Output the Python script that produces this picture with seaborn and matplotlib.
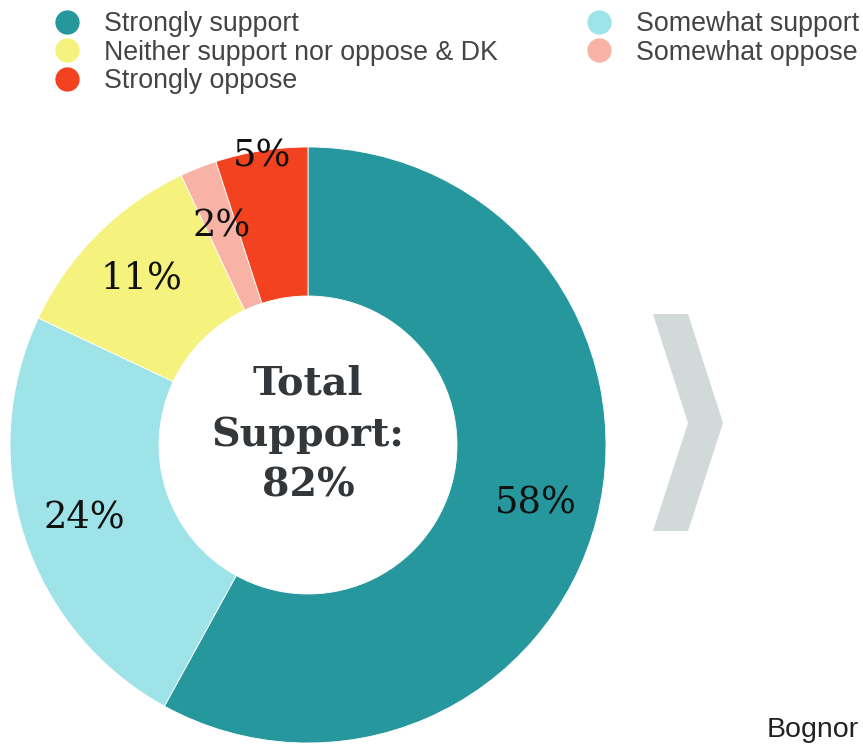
"""Donut chart of support levels with a centre total and a two-column legend."""

import matplotlib

matplotlib.use("Agg")

import numpy as np
import seaborn as sns
from matplotlib import pyplot as plt
from matplotlib.lines import Line2D
from matplotlib.patches import Polygon

# data, in drawing order (clockwise from 12 o'clock)
categories = [
    "Strongly support",
    "Somewhat support",
    "Neither support nor oppose & DK",
    "Somewhat oppose",
    "Strongly oppose",
]
shares = [58, 24, 11, 2, 5]
colors = ["#26979D", "#9EE3E8", "#F5F27D", "#F9B3A6", "#F2421F"]
label_radius = [0.79, 0.79, 0.79, 0.79, 0.98]
legend_order = [0, 2, 4, 1, 3]
center_text = "Total\nSupport:\n82%"
footer_text = "Bognor"

W, H = 863, 744
sns.set_theme(style="white")
plt.rcParams["font.family"] = ["Liberation Sans", "DejaVu Sans"]

fig = plt.figure(figsize=(W / 100, H / 100), dpi=100)
fig.patch.set_facecolor("white")

# pie axes: centre (308, 445) px, outer radius 298 px
cx, cy, R = 308, 445, 298
ax = fig.add_axes([(cx - R) / W, (H - cy - R) / H, 2 * R / W, 2 * R / H])
wedges, _ = ax.pie(
    shares,
    colors=colors,
    startangle=90,
    counterclock=False,
    radius=1.0,
    wedgeprops={"width": 0.5, "edgecolor": "white", "linewidth": 0.6},
)
ax.set_xlim(-1, 1)
ax.set_ylim(-1, 1)
ax.set_aspect("equal")
ax.axis("off")

for w, val, rad in zip(wedges, shares, label_radius):
    mid = np.deg2rad((w.theta1 + w.theta2) / 2)
    ax.text(
        rad * np.cos(mid),
        rad * np.sin(mid),
        f"{val}%",
        ha="center",
        va="center",
        fontsize=26.5,
        family="DejaVu Serif",
        color="#111111",
    )

ax.text(
    0,
    0.035,
    center_text,
    ha="center",
    va="center",
    fontsize=28.5,
    fontweight="bold",
    family="DejaVu Serif",
    color="#33373A",
    linespacing=1.42,
)

# decorative chevron, figure pixel space
overlay = fig.add_axes([0, 0, 1, 1], zorder=-1)
overlay.set_xlim(0, W)
overlay.set_ylim(H, 0)
overlay.axis("off")
chevron = [(653, 314), (688, 314), (723, 423), (688, 531), (653, 531), (688, 423)]
overlay.add_patch(Polygon(chevron, closed=True, facecolor="#D1D9D9", edgecolor="none"))
overlay.text(767, 737, footer_text, fontsize=20.5, color="#222222", ha="left", va="baseline")

handles = [
    Line2D([], [], linestyle="none", marker="o", markersize=17.5,
           markerfacecolor=colors[i], markeredgewidth=0, label=categories[i])
    for i in legend_order
]
leg = fig.legend(
    handles=handles,
    loc="upper left",
    bbox_to_anchor=(54 / W, 1 - 11 / H),
    ncol=2,
    frameon=False,
    fontsize=19.3,
    handlelength=0.95,
    handletextpad=0.9,
    labelspacing=0.1,
    columnspacing=3.33,
    borderpad=0,
    borderaxespad=0,
)
for t in leg.get_texts():
    t.set_color("#444444")

fig.savefig("out.png", dpi=100)
